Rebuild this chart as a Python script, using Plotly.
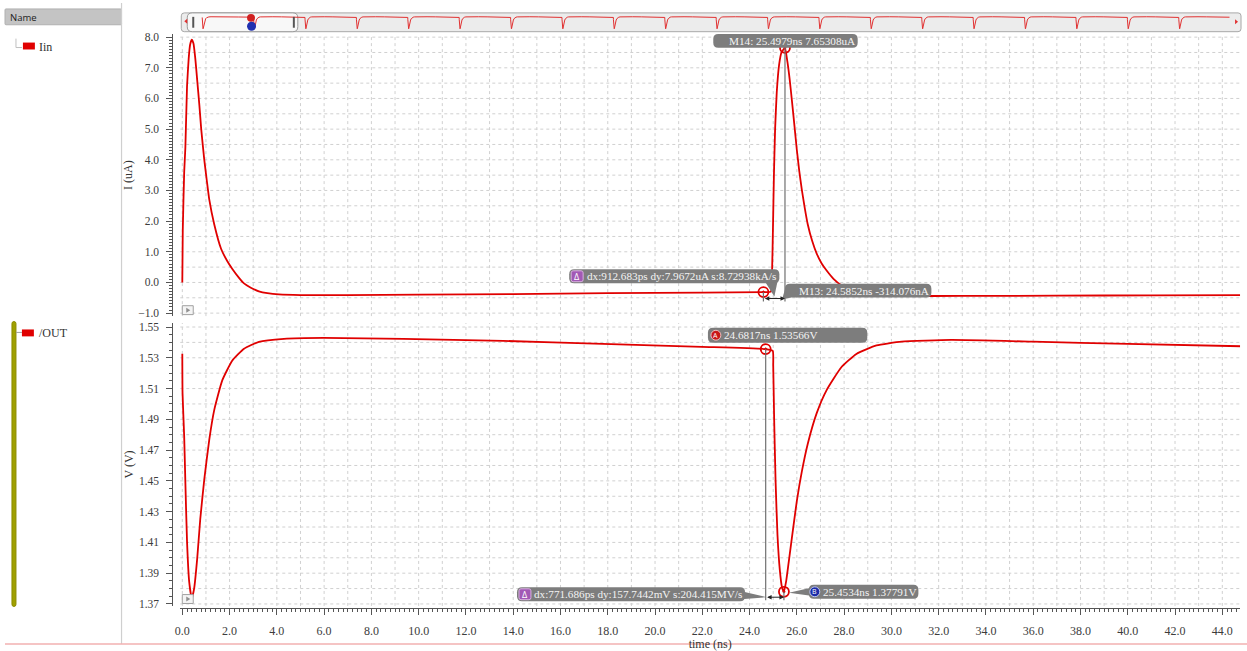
import plotly.graph_objects as go

W, H = 1247, 651
RED = "#e00000"
SERIF = "Liberation Serif"
SANS = "Open Sans"

# ---- transient results (time in ns) ----
iin_t = [0.0, 0.02, 0.08, 0.13, 0.2, 0.27, 0.33, 0.4, 0.47, 0.55, 0.63, 0.72, 0.8, 0.93,
         1.04, 1.14, 1.35, 1.64, 1.9, 2.11, 2.4, 2.61, 2.9, 3.24, 3.6, 4.09, 5.0, 7.0,
         10.0, 14.0, 18.0, 22.0, 24.5852, 24.9, 24.95, 24.99, 25.03, 25.08, 25.15, 25.25,
         25.35, 25.4979, 25.6, 25.7, 25.79, 25.9, 26.0, 26.1, 26.21, 26.33, 26.46, 26.65,
         26.84, 27.05, 27.26, 27.55, 27.9, 28.3, 28.74, 29.2, 29.58, 30.5, 33.0, 37.0,
         41.0, 44.8]
iin_ua = [0.0, 1.7, 3.6, 4.4, 6.4, 7.3, 7.75, 7.92, 7.8, 7.3, 6.6, 5.8, 5.0, 4.0,
          3.3, 2.71, 1.9, 1.1, 0.7, 0.45, 0.15, -0.03, -0.17, -0.29, -0.35, -0.39, -0.41, -0.41,
          -0.40, -0.38, -0.35, -0.33, -0.314076, -0.30, 0.3, 1.8, 3.5, 5.0, 6.2, 7.1,
          7.5, 7.65308, 7.2, 6.6, 5.94, 5.1, 4.32, 3.65, 3.03, 2.45, 1.9, 1.35,
          0.94, 0.62, 0.39, 0.12, -0.10, -0.24, -0.32, -0.38, -0.42, -0.44, -0.44, -0.43,
          -0.42, -0.41]

out_t = [0.0, 0.01, 0.08, 0.13, 0.2, 0.29, 0.4, 0.5, 0.63, 0.76, 0.93, 1.14, 1.35, 1.69,
         2.11, 2.61, 3.24, 4.3, 5.98, 9.36, 13.57, 17.78, 21.99, 24.6817, 24.98, 25.0,
         25.04, 25.1, 25.18, 25.28, 25.37, 25.4534, 25.55, 25.65, 25.79, 26.0, 26.21,
         26.46, 26.84, 27.26, 27.89, 28.52, 29.37, 30.43, 32.53, 36.0, 40.0, 44.8]
out_v = [1.5326, 1.5069, 1.4786, 1.449, 1.4105, 1.3847, 1.3735, 1.380, 1.3995, 1.4252,
         1.451, 1.4767, 1.496, 1.5153, 1.5281, 1.5359, 1.5404, 1.5423, 1.5429, 1.5423,
         1.541, 1.539, 1.5371, 1.53566, 1.5345, 1.525, 1.49, 1.45, 1.415, 1.392, 1.381,
         1.37791, 1.385, 1.3965, 1.413, 1.437, 1.456, 1.474, 1.494, 1.509, 1.524,
         1.5325, 1.538, 1.5405, 1.5416, 1.5405, 1.539, 1.5375]

# pulse instants of the whole run shown in the overview strip (ns)
overview_pulses = [0, 25, 50, 75, 100, 125, 150, 175, 200, 225,
                   250, 275, 300, 325, 350, 375, 400, 425, 450, 475]

# marker readouts
m13_t, m13_i = 24.5852, -0.314076
m14_t, m14_i = 25.4979, 7.65308
mA_t, mA_v = 24.6817, 1.53566
mB_t, mB_v = 25.4534, 1.37791

m14_text = "M14: 25.4979ns 7.65308uA"
m13_text = "M13: 24.5852ns -314.076nA"
dI_text = "dx:912.683ps dy:7.9672uA s:8.72938kA/s"
mA_text = "24.6817ns 1.53566V"
mB_text = "25.4534ns 1.37791V"
dV_text = "dx:771.686ps dy:157.7442mV s:204.415MV/s"

# ---- panel geometry (pixels) ----
PX_X = (176, 1240)
X_RANGE = [-0.085, 44.75]
PX_I = (31.5, 316.5)
I_RANGE = [-1.097, 8.097]
PX_V = (323.5, 609.5)
V_RANGE = [1.3687, 1.5526]
AXIS_X_PIX = 168
AXIS_Y_PIX = 612


def tx(t):
    return PX_X[0] + (t - X_RANGE[0]) * (PX_X[1] - PX_X[0]) / (X_RANGE[1] - X_RANGE[0])


def ti(v):
    return PX_I[1] - (v - I_RANGE[0]) * (PX_I[1] - PX_I[0]) / (I_RANGE[1] - I_RANGE[0])


def tv(v):
    return PX_V[1] - (v - V_RANGE[0]) * (PX_V[1] - PX_V[0]) / (V_RANGE[1] - V_RANGE[0])


def P(x, y):
    return x / W, 1 - y / H


def fmt(pt):
    return f"{pt[0]:.5f},{pt[1]:.5f}"


def poly_path(pts):
    return "M " + " L ".join(fmt(P(*p)) for p in pts) + " Z"


def rrect_path(x0, y0, x1, y1, r):
    s = [("M", (x0 + r, y0)), ("L", (x1 - r, y0)), ("Q", (x1, y0), (x1, y0 + r)),
         ("L", (x1, y1 - r)), ("Q", (x1, y1), (x1 - r, y1)), ("L", (x0 + r, y1)),
         ("Q", (x0, y1), (x0, y1 - r)), ("L", (x0, y0 + r)), ("Q", (x0, y0), (x0 + r, y0))]
    out = []
    for seg in s:
        out.append(seg[0] + " " + " ".join(fmt(P(*p)) for p in seg[1:]))
    return " ".join(out) + " Z"


shapes = []
annotations = []


def add_path(path, fill, line=None, lw=0, layer="above"):
    shapes.append(dict(type="path", xref="paper", yref="paper", path=path,
                       fillcolor=fill, line=dict(color=line or fill, width=lw), layer=layer))


def add_line(x0, y0, x1, y1, color, width=1, layer="above", dash=None):
    a, b = P(x0, y0)
    c, d = P(x1, y1)
    ln = dict(color=color, width=width)
    if dash:
        ln["dash"] = dash
    shapes.append(dict(type="line", xref="paper", yref="paper", x0=a, y0=b, x1=c, y1=d,
                       line=ln, layer=layer))


def add_text(x, y, text, size=11, color="#333", family=SERIF, xanchor="left", angle=0):
    a, b = P(x, y)
    annotations.append(dict(xref="paper", yref="paper", x=a, y=b, text=text, showarrow=False,
                            xanchor=xanchor, yanchor="middle", textangle=angle,
                            borderpad=0, borderwidth=0,
                            font=dict(family=family, size=size, color=color)))


fig = go.Figure()

# main waveforms
fig.add_trace(go.Scatter(x=iin_t, y=iin_ua, mode="lines", xaxis="x", yaxis="y",
                         line=dict(color=RED, width=1.8, shape="spline", smoothing=0.45),
                         hoverinfo="skip", showlegend=False))
fig.add_trace(go.Scatter(x=out_t, y=out_v, mode="lines", xaxis="x", yaxis="y2",
                         line=dict(color=RED, width=1.8, shape="spline", smoothing=0.45),
                         hoverinfo="skip", showlegend=False))

# overview of the complete run in the scroll strip
one_period = [(t, v) for t, v in zip(out_t, out_v) if t < 24.9]
ov_x, ov_y = [], []
for p in overview_pulses:
    ov_x += [p + t for t, _ in one_period]
    ov_y += [v for _, v in one_period]
fig.add_trace(go.Scatter(x=ov_x, y=ov_y, mode="lines", xaxis="x3", yaxis="y3",
                         line=dict(color="#e03030", width=1), hoverinfo="skip", showlegend=False))

# measurement markers
marker_style = dict(symbol="circle-open-dot", size=10, color=RED, line=dict(color=RED, width=1.8))
fig.add_trace(go.Scatter(x=[m13_t, m14_t], y=[m13_i, m14_i], mode="markers", xaxis="x", yaxis="y",
                         marker=marker_style, hoverinfo="skip", showlegend=False))
fig.add_trace(go.Scatter(x=[mA_t, mB_t], y=[mA_v, mB_v], mode="markers", xaxis="x", yaxis="y2",
                         marker=marker_style, hoverinfo="skip", showlegend=False))

# ---- dotted grid ----
GRID = "#d0d0d0"
dom_i = (1 - PX_I[1] / H, 1 - PX_I[0] / H)
dom_v = (1 - PX_V[1] / H, 1 - PX_V[0] / H)
for k in range(0, 45):
    for d0, d1 in (dom_i, dom_v):
        shapes.append(dict(type="line", xref="x", yref="paper", x0=k, x1=k, y0=d0, y1=d1,
                           line=dict(color=GRID, width=1, dash="dot"), layer="below"))
for k in range(-2, 17):
    shapes.append(dict(type="line", xref="paper", yref="y", x0=PX_X[0] / W, x1=PX_X[1] / W,
                       y0=k * 0.5, y1=k * 0.5, line=dict(color=GRID, width=1, dash="dot"),
                       layer="below"))
for k in range(0, 19):
    v = 1.37 + k * 0.01
    shapes.append(dict(type="line", xref="paper", yref="y2", x0=PX_X[0] / W, x1=PX_X[1] / W,
                       y0=v, y1=v, line=dict(color=GRID, width=1, dash="dot"), layer="below"))

# ---- left name panel ----
add_path(rrect_path(0, 6, 117, 22, 1), "#c4c4c4", "#b0b0b0", 1, layer="below")
add_text(5, 14.5, "Name", size=9.5, color="#222", family=SANS)
add_line(117, 0, 117, 648, "#cfcfcf", 1.2)
add_line(11, 36, 11, 45, "#c0c0c0", 1)
add_line(11, 45, 17, 45, "#c0c0c0", 1)
add_path(poly_path([(18, 40), (30, 40), (30, 47), (18, 47)]), RED)
add_text(34, 44, "Iin", size=12, color="#333")
add_path(rrect_path(7, 322, 11, 610, 2), "#a0a000", "#8c8c00", 1)
add_line(11, 333, 17, 333, "#a0a0a0", 1)
add_path(poly_path([(17, 330), (29, 330), (29, 337), (17, 337)]), RED)
add_text(34, 334, "/OUT", size=12, color="#333")
add_line(0, 648, W, 648, "#f2b0b0", 1.5)

# ---- scroll strip ----
add_path(rrect_path(177, 10, 1241, 29, 3), "#ececec", "#a8a8a8", 1, layer="below")
add_path(rrect_path(183, 10, 294, 29, 5), "#f8f8f8", "#9a9a9a", 1, layer="below")
add_path(poly_path([(188, 14), (190, 14), (190, 25), (188, 25)]), "#555555")
add_path(poly_path([(289, 14), (291, 14), (291, 25), (289, 25)]), "#555555")
add_path(poly_path([(183, 16), (183, 21), (180, 18.5)]), "#e03030")
add_path(poly_path([(1235, 16.5), (1235, 21.5), (1238, 19)]), "#e03030")
shapes.append(dict(type="circle", xref="paper", yref="paper",
                   x0=243 / W, x1=251 / W, y0=1 - 19 / H, y1=1 - 11 / H,
                   fillcolor="#d02020", line=dict(color="#d02020", width=0)))
shapes.append(dict(type="circle", xref="paper", yref="paper",
                   x0=243 / W, x1=252 / W, y0=1 - 28 / H, y1=1 - 19 / H,
                   fillcolor="#2030b0", line=dict(color="#2030b0", width=0)))

# small expand boxes at the lower left of each strip
for yb in (306, 598):
    add_path(poly_path([(178, yb), (189, yb), (189, yb + 9), (178, yb + 9)]), "#f4f4f4", "#a0a0a0", 1)
    add_path(poly_path([(182, yb + 2), (182, yb + 7), (186, yb + 4.5)]), "#909090")

# ---- marker guide lines and dimension arrows ----
GUIDE = "#707070"
p13 = (tx(m13_t), ti(m13_i))
p14 = (tx(m14_t), ti(m14_i))
pA = (tx(mA_t), tv(mA_v))
pB = (tx(mB_t), tv(mB_v))

arrow_top = p13[1] + 6.5
add_line(p14[0], p14[1], p14[0], arrow_top + 3, GUIDE, 1.2)
add_line(p13[0], p13[1], p13[0], arrow_top + 3, GUIDE, 1.2)
arrow_bot = pB[1] + 5.5
add_line(pA[0], pA[1], pA[0], arrow_bot + 3, GUIDE, 1.2)
add_line(pB[0], pB[1], pB[0], arrow_bot + 3, GUIDE, 1.2)

for (xa, xb, ya) in ((p13[0], p14[0], arrow_top), (pA[0], pB[0], arrow_bot)):
    a, b = P(xb, ya)
    annotations.append(dict(xref="paper", yref="paper", x=a, y=b, ax=xa - xb, ay=0,
                            axref="pixel", ayref="pixel", text="", showarrow=True,
                            arrowhead=2, arrowside="end+start", arrowsize=0.9,
                            arrowwidth=1, arrowcolor="#222"))

# ---- readout labels ----
BOX = "#7d7d7d"
LABEL = "#f4f4f4"
LSIZE = 11.2

# M14
bx0, by1 = p14[0] - 72, p14[1]
add_path(rrect_path(bx0, by1 - 14, p14[0] + 73, by1, 5), BOX)
add_text(bx0 + 16, by1 - 7, m14_text, size=LSIZE, color=LABEL)

# delta on the current strip
dx0, dy0 = p13[0] - 195, p13[1] - 23
add_path(rrect_path(dx0, dy0, p13[0] + 16, dy0 + 14, 5), BOX)
add_path(poly_path([(p13[0] + 2, dy0 + 13), (p13[0] + 14, dy0 + 13), (p13[0] + 11, arrow_top - 2)]), BOX)
add_path(rrect_path(dx0 + 2, dy0 + 1.5, dx0 + 14, dy0 + 12.5, 2), "#a259b5", "#d8b0e0", 1)
add_text(dx0 + 8, dy0 + 7.2, "Δ", size=9, color="white", family=SANS, xanchor="center")
add_text(dx0 + 18, dy0 + 7, dI_text, size=LSIZE, color=LABEL)

# M13
mx0, my0 = p14[0], p13[1] - 8.5
add_path(rrect_path(mx0, my0, mx0 + 147, my0 + 14, 5), BOX)
add_path(poly_path([(mx0, my0 + 6), (mx0 + 6, my0 + 14), (mx0 - 3, my0 + 16)]), BOX)
add_text(mx0 + 14, my0 + 7, m13_text, size=LSIZE, color=LABEL)

# marker A
ax0, ay0 = pA[0] - 58, pA[1] - 21.5
add_path(rrect_path(ax0, ay0, pA[0] + 102, ay0 + 15, 5), BOX)
shapes.append(dict(type="circle", xref="paper", yref="paper",
                   x0=(ax0 + 3) / W, x1=(ax0 + 13) / W, y0=1 - (ay0 + 12.5) / H, y1=1 - (ay0 + 2.5) / H,
                   fillcolor="#c81818", line=dict(color="#f0c0c0", width=1)))
add_text(ax0 + 8, ay0 + 7.3, "A", size=7, color="white", family=SANS, xanchor="center")
add_text(ax0 + 16, ay0 + 7.5, mA_text, size=LSIZE, color=LABEL)

# delta on the voltage strip
vx1, vy0 = pB[0] - 39, pB[1] - 4.5
add_path(rrect_path(vx1 - 229, vy0, vx1, vy0 + 14, 5), BOX)
add_path(poly_path([(vx1 - 8, vy0 + 3), (vx1 - 4, vy0 + 12), (pA[0] + 1, arrow_bot)]), BOX)
add_path(rrect_path(vx1 - 227, vy0 + 1.5, vx1 - 215, vy0 + 12.5, 2), "#a259b5", "#d8b0e0", 1)
add_text(vx1 - 221, vy0 + 7.2, "Δ", size=9, color="white", family=SANS, xanchor="center")
add_text(vx1 - 212, vy0 + 7, dV_text, size=LSIZE, color=LABEL)

# marker B
bbx0, bby0 = pB[0] + 25, pB[1] - 7
add_path(rrect_path(bbx0, bby0, bbx0 + 110, bby0 + 14, 5), BOX)
add_path(poly_path([(bbx0 + 2, bby0 + 3), (bbx0 + 2, bby0 + 11), (pB[0] + 5, pB[1] + 1)]), BOX)
shapes.append(dict(type="circle", xref="paper", yref="paper",
                   x0=(bbx0 + 1) / W, x1=(bbx0 + 11) / W, y0=1 - (bby0 + 12) / H, y1=1 - (bby0 + 2) / H,
                   fillcolor="#1a2aa8", line=dict(color="#c0c8f0", width=1)))
add_text(bbx0 + 6, bby0 + 7, "B", size=7, color="white", family=SANS, xanchor="center")
add_text(bbx0 + 14, bby0 + 7, mB_text, size=LSIZE, color=LABEL)

# ---- axes ----
TICKFONT = dict(family=SERIF, size=11.5, color="#3c3c3c")
TITLEFONT = dict(family=SERIF, size=12, color="#333")
common_y = dict(anchor="free", position=AXIS_X_PIX / W, side="left", showline=True,
                linecolor="#555", linewidth=1, ticks="outside", ticklen=6, tickcolor="#555",
                ticklabelstandoff=5, showgrid=False, zeroline=False, tickfont=TICKFONT,
                fixedrange=True)

fig.update_layout(
    width=W, height=H, margin=dict(l=0, r=0, t=0, b=0),
    paper_bgcolor="white", plot_bgcolor="rgba(0,0,0,0)",
    showlegend=False,
    xaxis=dict(domain=[PX_X[0] / W, PX_X[1] / W], range=X_RANGE, anchor="free",
               position=1 - AXIS_Y_PIX / H, showline=True, linecolor="#555", linewidth=1,
               ticks="outside", ticklen=6, tickcolor="#555", dtick=2, tick0=0,
               tickformat=".1f", minor=dict(dtick=0.2, ticklen=3, tickcolor="#555", showgrid=False),
               ticklabelstandoff=5, showgrid=False, zeroline=False,
               tickfont=dict(family=SERIF, size=12, color="#3c3c3c"), fixedrange=True,
               title=dict(text="time (ns)", font=TITLEFONT, standoff=0)),
    yaxis=dict(domain=list(dom_i), range=I_RANGE, dtick=1, tick0=0,
               tickformat=".1f", minor=dict(dtick=0.1, ticklen=3, tickcolor="#555"),
               title=dict(text="I (uA)", font=TITLEFONT, standoff=1), **common_y),
    yaxis2=dict(domain=list(dom_v), range=V_RANGE, dtick=0.02, tick0=1.37,
                tickformat=".2f", minor=dict(dtick=0.005, ticklen=3, tickcolor="#555"),
                title=dict(text="V (V)", font=TITLEFONT, standoff=1), **common_y),
    xaxis3=dict(domain=[177 / W, 1240 / W], range=[-10.17, 504.8], visible=False,
                anchor="y3", fixedrange=True),
    yaxis3=dict(domain=[1 - 29 / H, 1 - 10 / H], range=[1.3335, 1.5963], visible=False,
                anchor="x3", fixedrange=True),
    shapes=shapes,
    annotations=annotations,
)

fig.write_html("out.html")
